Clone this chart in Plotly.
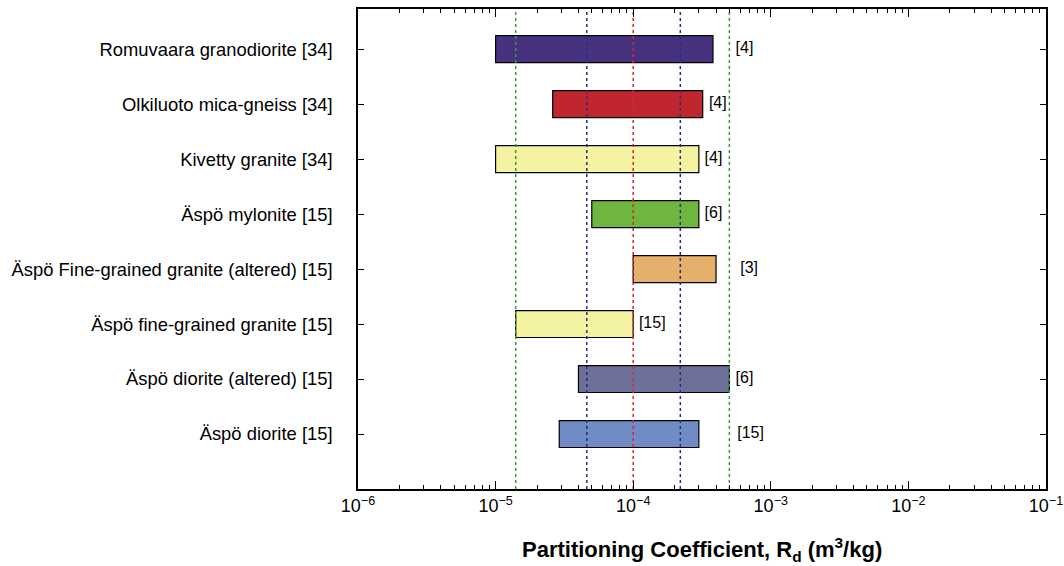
import numpy as np
import plotly.graph_objects as go

# Rock types, bottom row first
categories = [
    "Äspö diorite [15]",
    "Äspö diorite (altered) [15]",
    "Äspö fine-grained granite [15]",
    "Äspö Fine-grained granite (altered) [15]",
    "Äspö mylonite [15]",
    "Kivetty granite [34]",
    "Olkiluoto mica-gneiss [34]",
    "Romuvaara granodiorite [34]",
]
rd_min = [2.9e-5, 4.0e-5, 1.4e-5, 1.0e-4, 5.0e-5, 1.0e-5, 2.6e-5, 1.0e-5]
rd_max = [3.0e-4, 5.0e-4, 1.0e-4, 4.0e-4, 3.0e-4, 3.0e-4, 3.2e-4, 3.8e-4]
ref_labels = ["[15]", "[6]", "[15]", "[3]", "[6]", "[4]", "[4]", "[4]"]
ref_label_x = [5.7e-4, 5.55e-4, 1.1e-4, 6.0e-4, 3.3e-4, 3.3e-4, 3.55e-4, 5.55e-4]
bar_colors = ["#718BC5", "#6D7199", "#F4F3A1", "#E4B06A",
              "#6FB640", "#F4F3A1", "#C0262E", "#46327F"]

# Vertical reference lines
ref_lines = [1.4e-5, 4.6e-5, 1.0e-4, 2.2e-4, 5.0e-4]
ref_line_colors = ["#3C9A3C", "#2E2A7E", "#D6282F", "#2E2A7E", "#3C9A3C"]

x_tick_vals = [1e-6, 1e-5, 1e-4, 1e-3, 1e-2, 1e-1]
x_tick_text = ["10<sup>−6</sup>", "10<sup>−5</sup>", "10<sup>−4</sup>",
               "10<sup>−3</sup>", "10<sup>−2</sup>", "10<sup>−1</sup>"]
x_title = "<b>Partitioning Coefficient, R<sub>d</sub> (m<sup>3</sup>/kg)</b>"

FONT = "Liberation Sans, Arial, sans-serif"
y_range = [-1.0, 7.73]
ypos = list(range(len(categories)))

fig = go.Figure()

for xv, c in zip(ref_lines, ref_line_colors):
    fig.add_trace(go.Scatter(
        x=[xv, xv], y=y_range, mode="lines",
        line=dict(color=c, width=1.5, dash="dot"),
        hoverinfo="skip", showlegend=False))

fig.add_trace(go.Bar(
    y=ypos,
    x=[hi - lo for lo, hi in zip(rd_min, rd_max)],
    base=rd_min,
    orientation="h",
    width=0.49,
    marker=dict(color=bar_colors, line=dict(color="black", width=1.2)),
    showlegend=False, hoverinfo="skip"))

fig.add_trace(go.Scatter(
    x=ref_label_x, y=ypos, mode="text", text=ref_labels,
    textposition="middle right",
    textfont=dict(family=FONT, size=16, color="black"),
    showlegend=False, hoverinfo="skip"))

minor_vals = [m * 10.0 ** e for e in range(-6, -1) for m in range(2, 10)]

fig.update_layout(
    width=1064, height=566,
    margin=dict(l=358, r=18, t=9, b=77),
    plot_bgcolor="white", paper_bgcolor="white",
    font=dict(family=FONT, size=17, color="black"),
    barmode="overlay",
    xaxis=dict(
        type="log", range=[-6, -1], automargin=False,
        tickvals=x_tick_vals, ticktext=x_tick_text,
        ticks="inside", ticklen=8, tickwidth=1.2, tickcolor="black",
        minor=dict(tickvals=minor_vals, ticks="inside", ticklen=4,
                   tickwidth=1, tickcolor="black"),
        showline=True, linecolor="black", linewidth=1.5, mirror="allticks",
        showgrid=False, zeroline=False,
        tickfont=dict(size=18),
    ),
    yaxis=dict(
        range=y_range, tickvals=ypos, ticktext=categories, automargin=False,
        ticks="inside", ticklen=6, tickwidth=1.2, tickcolor="black",
        ticklabelstandoff=20,
        showline=True, linecolor="black", linewidth=1.5, mirror="allticks",
        showgrid=False, zeroline=False,
        tickfont=dict(size=18.4),
    ),
    annotations=[dict(
        text=x_title, xref="paper", yref="paper", x=0.5, y=-0.127,
        xanchor="center", yanchor="middle", showarrow=False,
        font=dict(family=FONT, size=22, color="black"))],
)

fig.write_html(
    "out.html",
    config={"displayModeBar": False},
    post_script="document.body.style.margin='0';document.body.style.overflow='hidden';",
)
